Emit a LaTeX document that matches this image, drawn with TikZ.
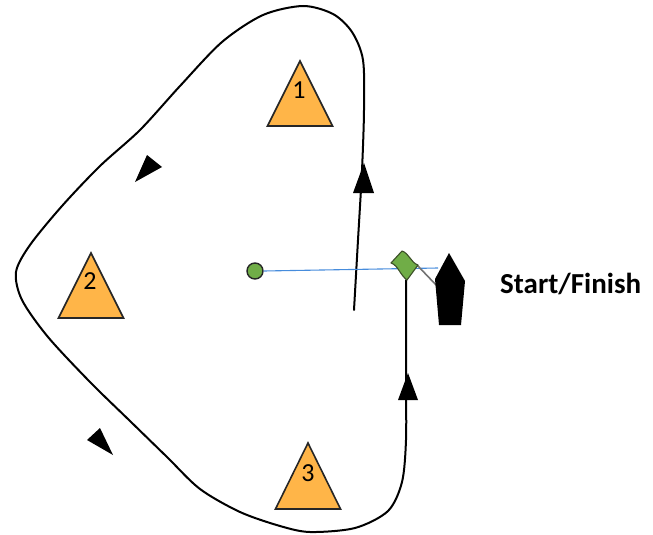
\documentclass[tikz,border=0pt]{standalone}
\usepackage{fontspec}
\setmainfont{Carlito}
\definecolor{buoyorange}{RGB}{255,181,72}
\definecolor{markgreen}{RGB}{112,173,71}
\definecolor{flagedge}{RGB}{60,80,40}
\definecolor{lineblue}{RGB}{70,140,220}
\begin{document}
\begin{tikzpicture}[x=1pt,y=-1pt,
  course/.style={line width=2pt, line join=round, line cap=round},
  buoy/.style={draw=black!85, line width=1.6pt, fill=buoyorange, line join=miter},
  num/.style={font=\fontsize{26}{26}\selectfont, inner sep=0pt, anchor=base},
  startline/.style={draw=lineblue, line width=1.1pt}]
\useasboundingbox (0,0) rectangle (653,535);

% course
\draw[course] plot[smooth, tension=0.5] coordinates {
  (354,310) (358,240) (362,170) (364,110) (363,60) (352,32) (333,14) (303,6)
  (263,15) (222,42) (180,86) (140,130) (100,166) (62,206) (30,245) (16,272)
  (22,300) (48,337) (90,382) (130,421) (167,457) (200,489) (240,512) (280,526)
  (310,532) (355,528) (388,511) (402,482) (406,440) (406,380) (406,330) (406,280)};

% direction marks on the legs
\fill (364,163) -- (374,193) -- (353,193) -- cycle;
\fill (408,373) -- (418,400) -- (398,400) -- cycle;
\fill (135,182) -- (147,155) -- (162,167) -- cycle;
\fill (113,455) -- (87,440) -- (100,428) -- cycle;

% buoys
\draw[buoy] (300,61) -- (332.5,126) -- (267.5,126) -- cycle;
\node[num] (n1) at (299,99) {1};
\draw[buoy] (91,253) -- (123.5,318) -- (58.5,318) -- cycle;
\node[num] (n2) at (90,289) {2};
\draw[buoy] (308,443) -- (340.5,509) -- (275.5,509) -- cycle;
\node[num] (n3) at (308,481) {3};

% pin end and start line
\node[circle, fill=markgreen, draw=black!85, line width=1.4pt, minimum size=16pt, inner sep=0pt] (pin) at (255,271) {};
\coordinate (lineend) at (438,268);
\draw[startline] (pin.east) -- (lineend);

% flag and staff
\coordinate (staffA) at (417,265);
\coordinate (staffB) at (438,287);
\draw[draw=black!55, line width=1.6pt] (staffA) -- (staffB);
\draw[fill=markgreen, draw=flagedge, line width=1.1pt, line join=round]
  (391,263) -- (402,251)
  .. controls (409.3,253.4) and (410.7,262.6) .. (418,265)
  -- (407,280)
  .. controls (399.7,274.6) and (398.3,265.4) .. cycle;

% committee boat
\fill (449,253) -- (465,281) -- (461,325) -- (439,325) -- (435,279) -- cycle;

\node[anchor=base west, font=\bfseries\fontsize{29}{29}\selectfont, inner sep=0pt] (sf) at (500,293) {Start/Finish};
\end{tikzpicture}
\end{document}
